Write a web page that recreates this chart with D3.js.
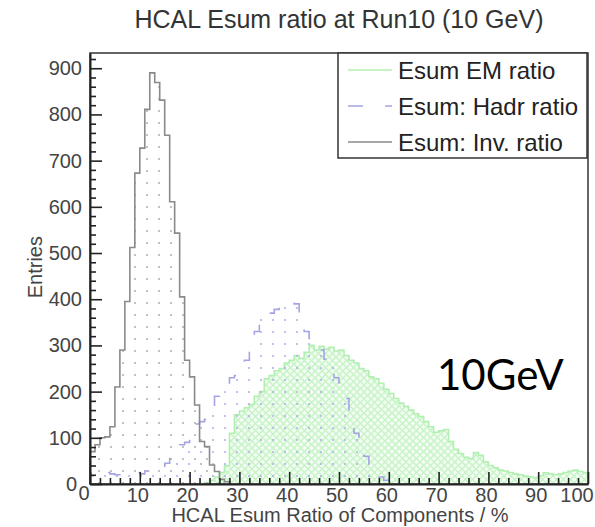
<!DOCTYPE html>
<html><head><meta charset="utf-8">
<script src="https://cdn.jsdelivr.net/npm/d3@7"></script>
<style>body{margin:0;background:#fff}svg{display:block}</style>
</head><body>
<svg id="c" width="595" height="527"></svg>
<script>
// ---- data (bins of width 1, starting at binStart) ----
const xTicks = [0,10,20,30,40,50,60,70,80,90,100];
const yTicks = [0,100,200,300,400,500,600,700,800,900];
const legendLabels = ["Esum EM ratio","Esum: Hadr ratio","Esum: Inv. ratio"];

const emStart = 23;
const emValues = [3,8,15,25,40,110,150,158,165,172,190,200,228,235,245,250,262,268,278,272,
  285,300,290,298,292,296,288,290,278,268,262,250,245,232,228,218,205,196,185,175,
  168,160,152,146,135,124,112,115,118,92,75,66,58,55,68,62,48,40,35,30,
  28,25,22,20,17,15,14,18,24,22,20,22,25,28,30,27,25];

const hadStart = 0;
const hadValues = [30,25,28,25,22,20,22,20,22,25,22,28,25,30,35,45,55,62,85,90,
  110,130,135,140,165,190,200,215,230,235,260,268,300,330,360,365,370,378,382,388,
  395,390,345,330,315,310,290,270,262,230,200,185,130,110,75,60,40,25,15,8,3];

const invStart = 0;
const invValues = [70,85,100,102,124,210,290,395,512,673,727,811,890,869,831,755,611,543,405,268,
  232,171,92,81,41,27,10,5];

// ---- layout ----
const svg = d3.select("#c");
const x = d3.scaleLinear().domain([0,100]).range([90,588]);
const y = d3.scaleLinear().domain([0,933]).range([484,53]);

const defs = svg.append("defs");
const pg = defs.append("pattern").attr("id","pGrey").attr("patternUnits","userSpaceOnUse")
  .attr("width",12).attr("height",12);
pg.append("circle").attr("cx",3).attr("cy",3).attr("r",1.1).attr("fill","#b4b4b4");
const pb = defs.append("pattern").attr("id","pBlue").attr("patternUnits","userSpaceOnUse")
  .attr("width",12).attr("height",12);
pb.append("circle").attr("cx",9).attr("cy",8).attr("r",1.1).attr("fill","#b0b0ee");
const pgr = defs.append("pattern").attr("id","pGreen").attr("patternUnits","userSpaceOnUse")
  .attr("width",7).attr("height",7);
pgr.append("rect").attr("width",7).attr("height",7).attr("fill","#f4fdf4");
pgr.append("path").attr("d","M0,0L7,7M7,0L0,7").attr("stroke","#c6f4c6").attr("stroke-width",1.4);

function stepPath(start, vals){
  let p = `M${x(start)},${y(0)}`;
  vals.forEach((v,i)=>{ p += `V${y(v)}H${x(start+i+1)}`; });
  p += `V${y(0)}`;
  return p;
}

const plot = svg.append("g");
plot.append("path").attr("d", stepPath(emStart, emValues)+"Z").attr("fill","url(#pGreen)").attr("stroke","none");
plot.append("path").attr("d", stepPath(emStart, emValues)).attr("fill","none")
  .attr("stroke","#b2f0b2").attr("stroke-width",1.6);
plot.append("path").attr("d", stepPath(hadStart, hadValues)+"Z").attr("fill","url(#pBlue)").attr("stroke","none");
plot.append("path").attr("d", stepPath(hadStart, hadValues)).attr("fill","none")
  .attr("stroke","#a4a4e4").attr("stroke-width",1.6).attr("stroke-dasharray","15,22");
plot.append("path").attr("d", stepPath(invStart, invValues)+"Z").attr("fill","url(#pGrey)").attr("stroke","none");
plot.append("path").attr("d", stepPath(invStart, invValues)).attr("fill","none")
  .attr("stroke","#8a8a8a").attr("stroke-width",1.6);

svg.append("rect").attr("x",x(0)).attr("y",y(933)).attr("width",x(100)-x(0)).attr("height",y(0)-y(933))
  .attr("fill","none").attr("stroke","#333").attr("stroke-width",1.5);

const font = "'Liberation Sans', Arial, sans-serif";
const xAxis = d3.axisBottom(x).tickValues(d3.range(0,101,2)).tickSize(0).tickFormat("");
const gx = svg.append("g").attr("transform",`translate(0,${y(0)})`).call(xAxis);
gx.select(".domain").attr("stroke","#222").attr("stroke-width",2);
gx.selectAll(".tick line").attr("stroke","#222").attr("stroke-width",1.6)
  .attr("y2", d => d%10===0 ? -12 : -6);
xTicks.forEach(t=>{
  const px = t===0 ? x(t)-6 : (t===100 ? 577 : x(t)-2);
  svg.append("text").attr("x", px).attr("y", t===0 ? 500 : 502)
    .attr("text-anchor","middle").attr("font-family",font).attr("font-size",20)
    .attr("fill","#444").text(t);
});
const yAxis = d3.axisLeft(y).tickValues(d3.range(0,921,20)).tickSize(0).tickFormat("");
const gy = svg.append("g").attr("transform",`translate(${x(0)},0)`).call(yAxis);
gy.select(".domain").attr("stroke","#222").attr("stroke-width",2);
gy.selectAll(".tick line").attr("stroke","#222").attr("stroke-width",1.6)
  .attr("x2", d => d%100===0 ? 12 : 6);
yTicks.forEach(t=>{
  svg.append("text").attr("x", t===0 ? 77 : 82).attr("y", y(t)+7)
    .attr("text-anchor","end").attr("font-family",font).attr("font-size",20)
    .attr("fill","#444").text(t);
});

svg.append("text").attr("x",339).attr("y",28).attr("text-anchor","middle")
  .attr("font-family",font).attr("font-size",25).attr("fill","#333")
  .text("HCAL Esum ratio at Run10 (10 GeV)");
svg.append("text").attr("x",340).attr("y",522).attr("text-anchor","middle")
  .attr("font-family",font).attr("font-size",20).attr("fill","#444")
  .text("HCAL Esum Ratio of Components / %");
svg.append("text").attr("transform","translate(42,236) rotate(-90)").attr("text-anchor","end")
  .attr("font-family",font).attr("font-size",20).attr("fill","#444").text("Entries");

const lg = svg.append("g");
lg.append("rect").attr("x",338).attr("y",53).attr("width",249).attr("height",105)
  .attr("fill","#fff").attr("stroke","#333").attr("stroke-width",1.5);
const lstyles = [
  {stroke:"#b2f0b2", dash:null},
  {stroke:"#a4a4e4", dash:"15,22"},
  {stroke:"#8a8a8a", dash:null}
];
legendLabels.forEach((lab,i)=>{
  const cy = 70 + i*36;
  lg.append("line").attr("x1",348).attr("x2",392).attr("y1",cy).attr("y2",cy)
    .attr("stroke",lstyles[i].stroke).attr("stroke-width",1.6)
    .attr("stroke-dasharray",lstyles[i].dash);
  lg.append("text").attr("x",398).attr("y",cy+8.5).attr("font-family",font)
    .attr("font-size",24).attr("fill","#222").text(lab);
});

svg.append("text").attr("x",437).attr("y",390).attr("font-family","Lato, 'Open Sans', sans-serif")
  .attr("font-size",42).attr("fill","#000").text("10GeV");
</script>
</body></html>
